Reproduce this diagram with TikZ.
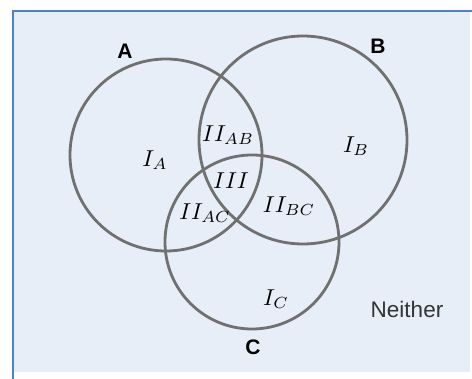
\documentclass[tikz,border=0pt]{standalone}
\usepackage{graphicx}
\usepackage{fontspec}
\newfontfamily\arial{Liberation Sans}
\definecolor{bgfill}{HTML}{E8EEF8}
\definecolor{bgline}{HTML}{4A84CC}
\definecolor{ring}{HTML}{707070}
\newcommand{\rlab}[1]{\scalebox{2.3}{$#1$}}
\tikzset{
  setring/.style={draw=ring, line width=2.8pt},
  setname/.style={font=\arial\bfseries\fontsize{21}{23}\selectfont, inner sep=0pt},
  region/.style={inner sep=0pt},
  plain/.style={font=\arial\fontsize{22.5}{24}\selectfont, text=black!80, inner sep=0pt}
}
\begin{document}
\begin{tikzpicture}[x=1pt,y=-1pt]
\useasboundingbox (0,0) rectangle (472,379);
\fill[white] (0,0) rectangle (472,379);
\fill[bgfill] (13,11) rectangle (470,372);
\draw[bgline, line width=2.5pt] (13,379) -- (13,11) -- (472,11);
\node[setring, circle, minimum size=192pt, inner sep=0pt] (ca) at (166,155) {};
\node[setring, circle, minimum size=208pt, inner sep=0pt] (cb) at (303,140) {};
\node[setring, circle, minimum size=174pt, inner sep=0pt] (cc) at (252,242) {};
\node[setname] (la) at (125,51) {A};
\node[setname] (lb) at (378,46) {B};
\node[setname] (lc) at (253,347) {C};
\node[plain] (ln) at (407,309) {Neither};
\node[region] (ia) at (155,160) {\rlab{I_A}};
\node[region] (iiab) at (228,135) {\rlab{II_{AB}}};
\node[region] (iii) at (231,181) {\rlab{III}};
\node[region] (ib) at (356,146) {\rlab{I_B}};
\node[region] (iiac) at (205,213) {\rlab{II_{AC}}};
\node[region] (iibc) at (289,206) {\rlab{II_{BC}}};
\node[region] (ic) at (276,299) {\rlab{I_C}};
\end{tikzpicture}
\end{document}
